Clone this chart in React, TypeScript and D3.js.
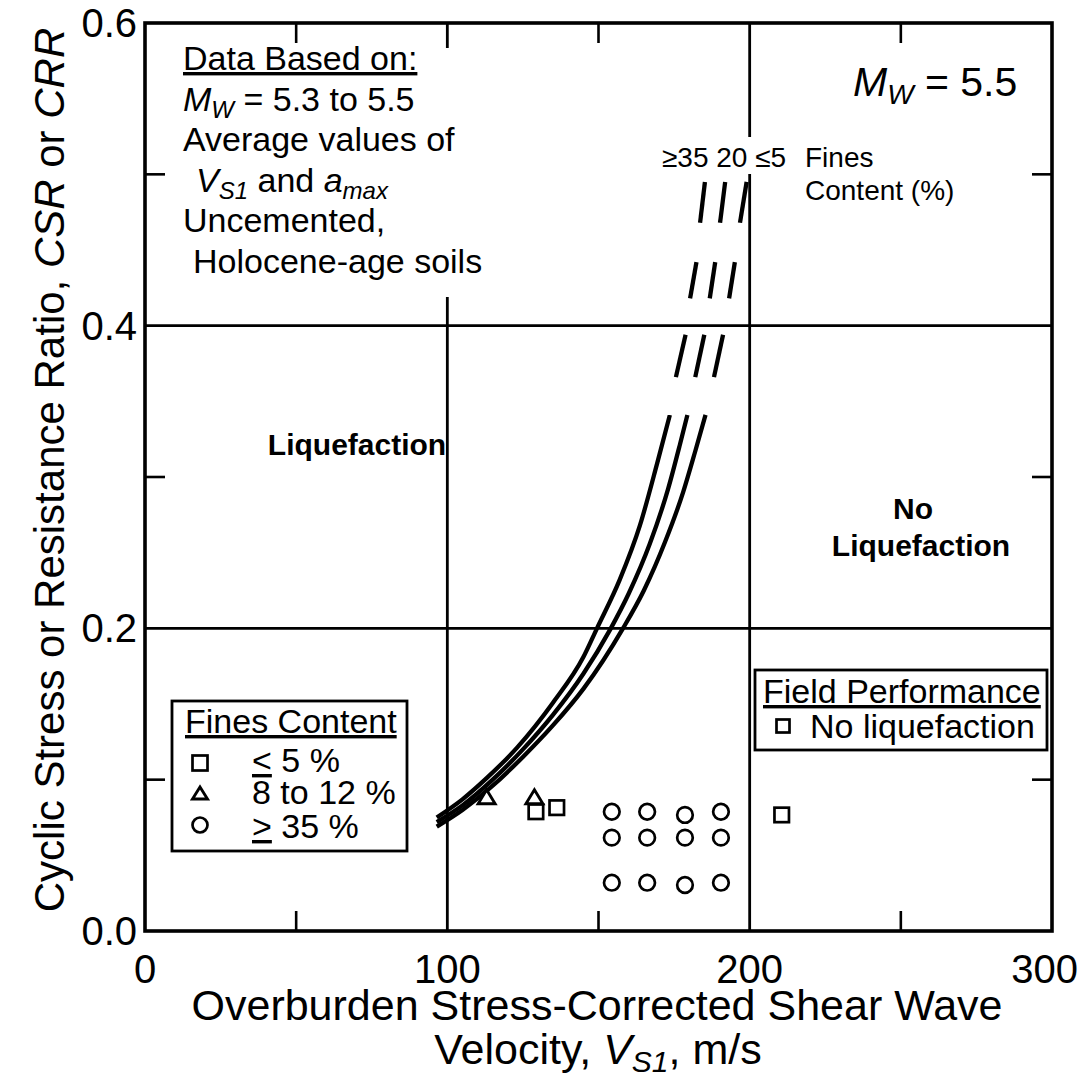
import React from "react";
import * as d3 from "d3";

// ---------- data ----------
const xMajorTicks = [0, 100, 200, 300];
const xMinorTicks = [50, 150, 250];
const yMajorTicks = [0, 0.2, 0.4, 0.6];
const yMinorTicks = [0.1, 0.3, 0.5];
const xGridValues = [100, 200];
const yGridValues = [0.2, 0.4];

const curveLabels = ["≥35", "20", "≤5"];

// CRR curves (Vs1, CRR), fines content >=35, 20, <=5 %
const curveFC35: [number, number][] = [
  [96.5, 0.075], [105, 0.087], [113, 0.101], [123, 0.121], [135, 0.151],
  [145, 0.181], [149.5, 0.2], [157, 0.232], [163.7, 0.268], [169.4, 0.309], [173.6, 0.341],
];
const curveFC20: [number, number][] = [
  [96.5, 0.072], [105, 0.083], [115, 0.1], [125, 0.12], [135, 0.143],
  [145, 0.17], [153.8, 0.199], [160, 0.223], [167, 0.256], [173, 0.292], [177, 0.322], [179.4, 0.341],
];
const curveFC5: [number, number][] = [
  [96.5, 0.069], [105, 0.08], [115, 0.096], [125, 0.115], [135, 0.136],
  [145, 0.16], [158.1, 0.2], [165, 0.225], [172, 0.257], [178, 0.29], [182, 0.317], [185.4, 0.341],
];
// dashed extensions (segments) for each curve
const dashFC35: [number, number][][] = [
  [[175.6, 0.366], [178.8, 0.394]],
  [[180.3, 0.418], [182.4, 0.442]],
  [[183.6, 0.468], [185.2, 0.495]],
];
const dashFC20: [number, number][][] = [
  [[182.0, 0.366], [185.0, 0.394]],
  [[186.8, 0.418], [188.6, 0.442]],
  [[190.2, 0.468], [191.9, 0.495]],
];
const dashFC5: [number, number][][] = [
  [[188.2, 0.366], [191.2, 0.394]],
  [[193.2, 0.418], [195.1, 0.442]],
  [[196.8, 0.468], [199.0, 0.495]],
];

// field data (no liquefaction)
const pointsFCle5: [number, number][] = [
  [129.3, 0.0788], [136.2, 0.0815], [210.6, 0.0767],
];
const pointsFC8to12: [number, number][] = [
  [113.0, 0.0887], [128.8, 0.0887],
];
const pointsFCge35: [number, number][] = [
  [154.4, 0.0788], [166.1, 0.0788], [178.6, 0.0767], [190.5, 0.0788],
  [154.4, 0.0617], [166.1, 0.0617], [178.6, 0.0617], [190.5, 0.0617],
  [154.4, 0.0319], [166.1, 0.0319], [178.6, 0.0304], [190.5, 0.0319],
];

const legendRows = ["5 %", "8 to 12 %", "35 %"];

// ---------- layout ----------
const W = 1080;
const H = 1086;
const FONT = "'Liberation Sans', Arial, Helvetica, sans-serif";
const x = d3.scaleLinear().domain([0, 300]).range([145, 1052]);
const y = d3.scaleLinear().domain([0, 0.6]).range([931, 23]);
const lineGen = d3
  .line<[number, number]>()
  .x((d) => x(d[0]))
  .y((d) => y(d[1]))
  .curve(d3.curveMonotoneX);

const Square = ({ cx, cy, s }: { cx: number; cy: number; s: number }) => (
  <rect x={cx - s / 2} y={cy - s / 2} width={s} height={s} fill="white" stroke="black" strokeWidth={2.7} />
);
const Tri = ({ cx, cy, w, h }: { cx: number; cy: number; w: number; h: number }) => (
  <path
    d={`M${cx},${cy - h / 2} L${cx + w / 2},${cy + h / 2} L${cx - w / 2},${cy + h / 2} Z`}
    fill="white"
    stroke="black"
    strokeWidth={2.9}
    strokeLinejoin="miter"
  />
);
const Circ = ({ cx, cy, r }: { cx: number; cy: number; r: number }) => (
  <circle cx={cx} cy={cy} r={r} fill="white" stroke="black" strokeWidth={2.7} />
);

export default function App() {
  const x0 = x(0), x1 = x(300), y0 = y(0), y1 = y(0.6);
  const tickLen = 20;
  return (
    <svg
      width={W}
      height={H}
      viewBox={`0 0 ${W} ${H}`}
      style={{ position: "absolute", left: 0, top: 0, display: "block", background: "white" }}
      fontFamily={FONT}
    >
      <rect x={0} y={0} width={W} height={H} fill="white" />

      {/* grid lines */}
      {xGridValues.map((v) => (
        <line key={"gx" + v} x1={x(v)} x2={x(v)} y1={y1} y2={y0} stroke="black" strokeWidth={2.8} />
      ))}
      {yGridValues.map((v) => (
        <line key={"gy" + v} x1={x0} x2={x1} y1={y(v)} y2={y(v)} stroke="black" strokeWidth={2.8} />
      ))}

      {/* minor ticks */}
      {xMinorTicks.map((v) => (
        <g key={"tx" + v}>
          <line x1={x(v)} x2={x(v)} y1={y0} y2={y0 - tickLen} stroke="black" strokeWidth={2.6} />
          <line x1={x(v)} x2={x(v)} y1={y1} y2={y1 + tickLen} stroke="black" strokeWidth={2.6} />
        </g>
      ))}
      {yMinorTicks.map((v) => (
        <g key={"ty" + v}>
          <line x1={x0} x2={x0 + tickLen} y1={y(v)} y2={y(v)} stroke="black" strokeWidth={2.6} />
          <line x1={x1} x2={x1 - tickLen} y1={y(v)} y2={y(v)} stroke="black" strokeWidth={2.6} />
        </g>
      ))}

      {/* white masks behind annotation texts */}
      <rect x={176} y={48} width={318} height={249} fill="white" />
      <rect x={655} y={137} width={140} height={37} fill="white" />

      {/* frame */}
      <rect x={x0} y={y1} width={x1 - x0} height={y0 - y1} fill="none" stroke="black" strokeWidth={3.6} />

      {/* tick labels */}
      {xMajorTicks.map((v, i) => (
        <text
          key={"lx" + v}
          x={i === xMajorTicks.length - 1 ? 1078 : x(v)}
          y={983}
          fontSize={40}
          textAnchor={i === xMajorTicks.length - 1 ? "end" : "middle"}
        >
          {v}
        </text>
      ))}
      {yMajorTicks.map((v) => (
        <text key={"ly" + v} x={137} y={y(v) + 14} fontSize={40} textAnchor="end">
          {d3.format(".1f")(v)}
        </text>
      ))}

      {/* axis titles */}
      <text x={597} y={1020} fontSize={43} textAnchor="middle">
        Overburden Stress-Corrected Shear Wave
      </text>
      <text x={598} y={1064} fontSize={43} textAnchor="middle">
        Velocity, <tspan fontStyle="italic">V</tspan>
        <tspan fontStyle="italic" fontSize={30} dy={8}>S1</tspan>
        <tspan dy={-8}>, m/s</tspan>
      </text>
      <text transform="translate(64,470) rotate(-90)" fontSize={42} textAnchor="middle">
        Cyclic Stress or Resistance Ratio, <tspan fontStyle="italic">CSR</tspan> or{" "}
        <tspan fontStyle="italic">CRR</tspan>
      </text>

      {/* curves */}
      {[curveFC35, curveFC20, curveFC5].map((c, i) => (
        <path key={"c" + i} d={lineGen(c) || ""} fill="none" stroke="black" strokeWidth={4.3} strokeLinecap="butt" />
      ))}
      {[dashFC35, dashFC20, dashFC5].map((segs, i) =>
        segs.map((s, j) => (
          <line
            key={`d${i}-${j}`}
            x1={x(s[0][0])}
            y1={y(s[0][1])}
            x2={x(s[1][0])}
            y2={y(s[1][1])}
            stroke="black"
            strokeWidth={4.3}
          />
        ))
      )}

      {/* data points */}
      {pointsFCge35.map((p, i) => (
        <Circ key={"pc" + i} cx={x(p[0])} cy={y(p[1])} r={7.8} />
      ))}
      {pointsFC8to12.map((p, i) => (
        <Tri key={"pt" + i} cx={x(p[0])} cy={y(p[1])} w={17} h={14} />
      ))}
      {pointsFCle5.map((p, i) => (
        <Square key={"ps" + i} cx={x(p[0])} cy={y(p[1])} s={14.5} />
      ))}

      {/* annotation top-left */}
      <g fontSize={34}>
        <text x={183} y={70} textDecoration="underline">Data Based on:</text>
        <text x={183} y={110.6}>
          <tspan fontStyle="italic">M</tspan>
          <tspan fontStyle="italic" fontSize={24} dy={7}>W</tspan>
          <tspan dy={-7}> = 5.3 to 5.5</tspan>
        </text>
        <text x={183} y={151}>Average values of</text>
        <text x={196} y={192}>
          <tspan fontStyle="italic">V</tspan>
          <tspan fontStyle="italic" fontSize={24} dy={7}>S1</tspan>
          <tspan dy={-7}> and </tspan>
          <tspan fontStyle="italic">a</tspan>
          <tspan fontStyle="italic" fontSize={24} dy={7}>max</tspan>
        </text>
        <text x={183} y={232}>Uncemented,</text>
        <text x={193} y={273}>Holocene-age soils</text>
      </g>

      {/* Mw = 5.5 */}
      <text x={853} y={96} fontSize={41}>
        <tspan fontStyle="italic">M</tspan>
        <tspan fontStyle="italic" fontSize={28} dy={8}>W</tspan>
        <tspan dy={-8}> = 5.5</tspan>
      </text>

      {/* curve labels */}
      <text x={662} y={167} fontSize={28}>
        {curveLabels.join(" ")}
      </text>
      <text x={805} y={167} fontSize={28}>Fines</text>
      <text x={805} y={200} fontSize={28}>Content (%)</text>

      {/* region labels */}
      <text x={357} y={455} fontSize={30} fontWeight="bold" textAnchor="middle">Liquefaction</text>
      <text x={913} y={519} fontSize={30} fontWeight="bold" textAnchor="middle">No</text>
      <text x={921} y={556} fontSize={30} fontWeight="bold" textAnchor="middle">Liquefaction</text>

      {/* Fines content legend */}
      <rect x={172} y={701} width={235} height={150} fill="white" stroke="black" strokeWidth={2.8} />
      <text x={185} y={733} fontSize={34} textDecoration="underline">Fines Content</text>
      <Square cx={200} cy={763} s={15} />
      <Tri cx={200} cy={793} w={15} h={12} />
      <Circ cx={200} cy={825} r={7.5} />
      <text x={252} y={772} fontSize={34}>
        <tspan textDecoration="underline">{"<"}</tspan> {legendRows[0]}
      </text>
      <text x={252} y={804} fontSize={34}>{legendRows[1]}</text>
      <text x={252} y={838} fontSize={34}>
        <tspan textDecoration="underline">{">"}</tspan> {legendRows[2]}
      </text>

      {/* field performance legend */}
      <rect x={755} y={670} width={292} height={80} fill="white" stroke="black" strokeWidth={2.8} />
      <text x={763} y={703} fontSize={34} textDecoration="underline">Field Performance</text>
      <Square cx={783} cy={726} s={13} />
      <text x={810} y={738} fontSize={34}>No liquefaction</text>
    </svg>
  );
}
